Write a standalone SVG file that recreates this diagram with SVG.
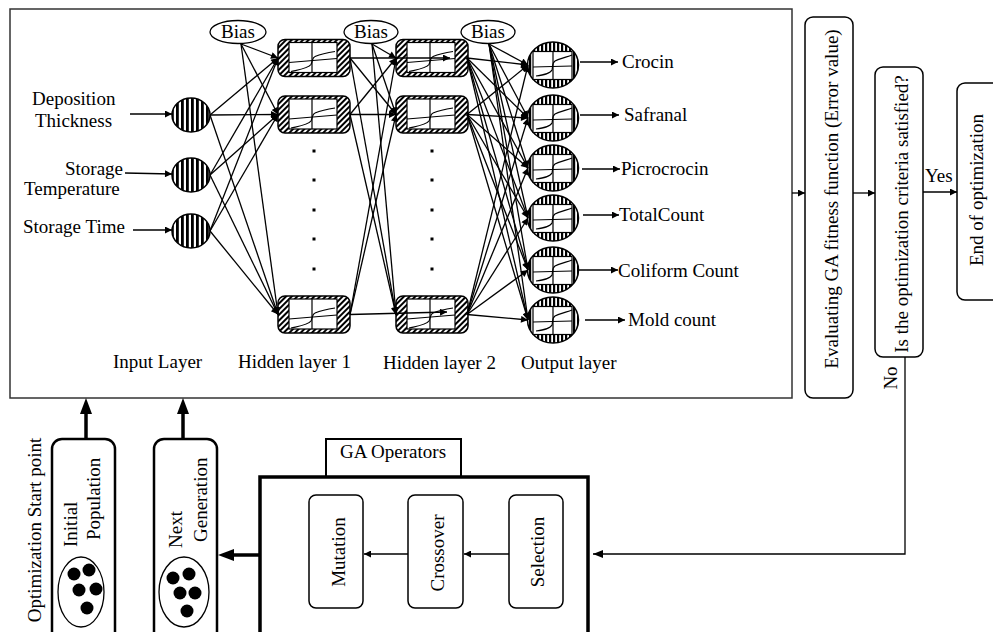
<svg xmlns="http://www.w3.org/2000/svg" xmlns:xlink="http://www.w3.org/1999/xlink" width="993" height="632" viewBox="0 0 993 632">
<style>
.t{font-family:"Liberation Serif","Times New Roman",serif;font-size:19px;fill:#000}
.c{stroke:#000;stroke-width:1.3;fill:none}
.ca{stroke:#000;stroke-width:1.3;fill:none;marker-end:url(#ah)}
.tk{stroke:#000;stroke-width:3.5;fill:none}
.rb{fill:#fff;stroke:#000;stroke-width:1.5}
</style>
<defs>
<marker id="ah" viewBox="0 0 10 10" refX="10" refY="5" markerWidth="9" markerHeight="7" markerUnits="userSpaceOnUse" orient="auto"><path d="M0,0 L10,5 L0,10 z" fill="#000"/></marker>
<pattern id="hatch" patternUnits="userSpaceOnUse" width="4" height="4" patternTransform="rotate(45)"><rect width="4" height="4" fill="#fff"/><line x1="2" y1="0" x2="2" y2="4" stroke="#000" stroke-width="2"/></pattern>
<pattern id="vs1" patternUnits="userSpaceOnUse" width="5" height="10"><rect width="5" height="10" fill="#fff"/><rect width="2.8" height="10" fill="#000"/></pattern>
<pattern id="vs2" patternUnits="userSpaceOnUse" width="4" height="10"><rect width="4" height="10" fill="#fff"/><rect width="2.2" height="10" fill="#000"/></pattern>
<g id="hnode">
<rect x="0" y="0" width="72" height="37" rx="7" fill="url(#hatch)" stroke="#000" stroke-width="1.5"/>
<rect x="11" y="3" width="48" height="30" fill="#fff" stroke="#000" stroke-width="1.2"/>
<line x1="34" y1="3" x2="34" y2="33" stroke="#000" stroke-width="1.2"/>
<line x1="11" y1="23" x2="59" y2="19" stroke="#000" stroke-width="1.2"/>
<path d="M13,32 C22,30 30,29 33,25 C35,21 34,18 37,17 C44,14 50,13 57,12" fill="none" stroke="#000" stroke-width="1.2"/>
</g>
<g id="onode">
<ellipse cx="0" cy="0" rx="25.5" ry="23" fill="url(#vs2)" stroke="#000" stroke-width="1.5"/>
<rect x="-20" y="-13.5" width="39" height="28" fill="#fff" stroke="#000" stroke-width="1.2"/>
<line x1="0" y1="-13.5" x2="0" y2="14.5" stroke="#000" stroke-width="1.2"/>
<line x1="-20" y1="2" x2="19" y2="1" stroke="#000" stroke-width="1.2"/>
<path d="M-17,11 C-10,10 -3,9 -1,5 C0,1 -1,-2 2,-4 C8,-7 14,-8 19,-10" fill="none" stroke="#000" stroke-width="1.2"/>
</g>
<ellipse id="inode" cx="0" cy="0" rx="19" ry="17" fill="url(#vs1)" stroke="#000" stroke-width="1.5"/>
</defs>
<rect width="993" height="632" fill="#fff"/>

<g id="nn-frame"><rect x="10" y="9" width="782" height="389" fill="#fff" stroke="#333" stroke-width="1.5"/></g>

<g id="input-nodes">
<use id="in1" href="#inode" x="191" y="115"/>
<use id="in2" href="#inode" x="191" y="175"/>
<use id="in3" href="#inode" x="191" y="231"/>
<text class="t" x="32" y="105">Deposition</text>
<text class="t" x="35" y="127">Thickness</text>
<text class="t" x="123" y="175" text-anchor="end">Storage</text>
<text class="t" x="24" y="195">Temperature</text>
<text class="t" x="23" y="233">Storage Time</text>
</g>

<g id="bias1"><ellipse cx="238" cy="32" rx="28" ry="11.5" fill="#fff" stroke="#000" stroke-width="1.3"/><text class="t" x="238" y="38" text-anchor="middle">Bias</text></g>
<g id="bias2"><ellipse cx="371" cy="32" rx="27" ry="11.5" fill="#fff" stroke="#000" stroke-width="1.3"/><text class="t" x="371" y="38" text-anchor="middle">Bias</text></g>
<g id="bias3"><ellipse cx="488" cy="32" rx="27" ry="11.5" fill="#fff" stroke="#000" stroke-width="1.3"/><text class="t" x="488" y="38" text-anchor="middle">Bias</text></g>

<g id="hidden1">
<use href="#hnode" x="278" y="39.5"/>
<use href="#hnode" x="278" y="96"/>
<use href="#hnode" x="278" y="296"/>
</g>
<g id="hidden2">
<use href="#hnode" x="396" y="39.5"/>
<use href="#hnode" x="396" y="96"/>
<use href="#hnode" x="396" y="296"/>
</g>
<g id="dots" fill="#000">
<rect x="312.5" y="149.5" width="3" height="3"/><rect x="312.5" y="178.5" width="3" height="3"/><rect x="312.5" y="208.5" width="3" height="3"/><rect x="312.5" y="237.5" width="3" height="3"/><rect x="312.5" y="267.5" width="3" height="3"/>
<rect x="430.5" y="149.5" width="3" height="3"/><rect x="430.5" y="178.5" width="3" height="3"/><rect x="430.5" y="208.5" width="3" height="3"/><rect x="430.5" y="237.5" width="3" height="3"/><rect x="430.5" y="267.5" width="3" height="3"/>
</g>

<g id="outputs">
<use href="#onode" x="553" y="65"/>
<use href="#onode" x="553" y="118"/>
<use href="#onode" x="553" y="168"/>
<use href="#onode" x="553" y="218"/>
<use href="#onode" x="553" y="270"/>
<use href="#onode" x="553" y="320"/>
<text class="t" x="622" y="68">Crocin</text>
<text class="t" x="624" y="121">Safranal</text>
<text class="t" x="621" y="175">Picrocrocin</text>
<text class="t" x="619" y="221">TotalCount</text>
<text class="t" x="618" y="277">Coliform Count</text>
<text class="t" x="628" y="326">Mold count</text>
</g>

<g id="layer-labels">
<text class="t" x="113" y="368">Input Layer</text>
<text class="t" x="238" y="368">Hidden layer 1</text>
<text class="t" x="383" y="369">Hidden layer 2</text>
<text class="t" x="521" y="369">Output layer</text>
</g>

<g id="eval"><rect class="rb" x="805" y="17" width="48" height="381" rx="8"/><text class="t" transform="translate(838,199) rotate(-90)" text-anchor="middle">Evaluating GA fitness function (Error value)</text></g>
<g id="criteria"><rect class="rb" x="875" y="67" width="48" height="290" rx="8"/><text class="t" transform="translate(908,214) rotate(-90)" text-anchor="middle">Is the optimization criteria satisfied?</text></g>
<g id="end"><rect class="rb" x="957" y="83" width="60" height="217" rx="8"/><text class="t" transform="translate(983,190) rotate(-90)" text-anchor="middle">End of optimization</text></g>

<g id="ga-operators">
<rect x="326" y="439" width="135" height="38" fill="#fff" stroke="#000" stroke-width="2"/>
<text class="t" x="393" y="458" text-anchor="middle">GA Operators</text>
<rect x="260" y="477" width="328" height="170" fill="#fff" stroke="#000" stroke-width="3.5"/>
</g>
<g id="mutation"><rect class="rb" x="309" y="495" width="54" height="113" rx="7" stroke-width="1.3"/><text class="t" transform="translate(345,552) rotate(-90)" text-anchor="middle">Mutation</text></g>
<g id="crossover"><rect class="rb" x="408" y="495" width="55" height="113" rx="7" stroke-width="1.3"/><text class="t" transform="translate(444,553) rotate(-90)" text-anchor="middle">Crossover</text></g>
<g id="selection"><rect class="rb" x="509" y="495" width="54" height="113" rx="7" stroke-width="1.3"/><text class="t" transform="translate(544,552) rotate(-90)" text-anchor="middle">Selection</text></g>

<g id="initial-pop">
<rect x="52" y="439" width="63" height="210" rx="10" fill="#fff" stroke="#000" stroke-width="2.5"/>
<text class="t" transform="translate(77,547) rotate(-90)">Initial</text>
<text class="t" transform="translate(100,540) rotate(-90)">Population</text>
<ellipse cx="81" cy="592" rx="23" ry="35" fill="#fff" stroke="#000" stroke-width="1.3"/>
<g fill="#000"><circle cx="74" cy="574" r="6.5"/><circle cx="89" cy="570" r="6.5"/><circle cx="79" cy="590" r="6.5"/><circle cx="96" cy="589" r="6.5"/><circle cx="87" cy="608" r="6.5"/></g>
</g>
<g id="next-gen">
<rect x="154" y="439" width="63" height="210" rx="10" fill="#fff" stroke="#000" stroke-width="2.5"/>
<text class="t" transform="translate(182,548) rotate(-90)">Next</text>
<text class="t" transform="translate(207,542) rotate(-90)">Generation</text>
<ellipse cx="184" cy="592" rx="25" ry="35" fill="#fff" stroke="#000" stroke-width="1.3"/>
<g fill="#000"><circle cx="173" cy="578" r="6.5"/><circle cx="189" cy="574" r="6.5"/><circle cx="180" cy="593" r="6.5"/><circle cx="195" cy="593" r="6.5"/><circle cx="187" cy="611" r="6.5"/></g>
</g>
<g id="start-label"><text class="t" transform="translate(41,530) rotate(-90)" text-anchor="middle">Optimization Start point</text></g>

<g id="connectors">
<line class="ca" x1="130" y1="114" x2="172" y2="114"/>
<line class="ca" x1="125" y1="173" x2="172" y2="174"/>
<line class="ca" x1="133" y1="230" x2="172" y2="230"/>
<line class="ca" x1="210" y1="115" x2="278" y2="58"/>
<line class="ca" x1="210" y1="115" x2="278" y2="114.5"/>
<line class="ca" x1="210" y1="115" x2="278" y2="314.5"/>
<line class="ca" x1="210" y1="175" x2="278" y2="58"/>
<line class="ca" x1="210" y1="175" x2="278" y2="114.5"/>
<line class="ca" x1="210" y1="175" x2="278" y2="314.5"/>
<line class="ca" x1="210" y1="231" x2="278" y2="58"/>
<line class="ca" x1="210" y1="231" x2="278" y2="114.5"/>
<line class="ca" x1="210" y1="231" x2="278" y2="314.5"/>
<line class="ca" x1="241" y1="44" x2="278" y2="58"/>
<line class="ca" x1="241" y1="44" x2="278" y2="114.5"/>
<line class="ca" x1="241" y1="44" x2="278" y2="314.5"/>
<line class="ca" x1="350" y1="58" x2="450" y2="58"/>
<line class="ca" x1="350" y1="58" x2="396" y2="114.5"/>
<line class="ca" x1="350" y1="58" x2="396" y2="314.5"/>
<line class="ca" x1="350" y1="114.5" x2="396" y2="58"/>
<line class="ca" x1="350" y1="114.5" x2="396" y2="114.5"/>
<line class="ca" x1="350" y1="114.5" x2="396" y2="314.5"/>
<line class="ca" x1="350" y1="314.5" x2="396" y2="58"/>
<line class="ca" x1="350" y1="314.5" x2="396" y2="114.5"/>
<line class="ca" x1="350" y1="314.5" x2="447" y2="312"/>
<line class="ca" x1="372" y1="44" x2="396" y2="58"/>
<line class="ca" x1="372" y1="44" x2="396" y2="114.5"/>
<line class="ca" x1="372" y1="44" x2="396" y2="314.5"/>
<line class="ca" x1="467" y1="58" x2="528" y2="65"/>
<line class="ca" x1="467" y1="58" x2="528" y2="118"/>
<line class="ca" x1="467" y1="58" x2="528" y2="168"/>
<line class="ca" x1="467" y1="58" x2="528" y2="218"/>
<line class="ca" x1="467" y1="58" x2="528" y2="270"/>
<line class="ca" x1="467" y1="58" x2="528" y2="320"/>
<line class="ca" x1="467" y1="114.5" x2="528" y2="65"/>
<line class="ca" x1="467" y1="114.5" x2="528" y2="118"/>
<line class="ca" x1="467" y1="114.5" x2="528" y2="168"/>
<line class="ca" x1="467" y1="114.5" x2="528" y2="218"/>
<line class="ca" x1="467" y1="114.5" x2="528" y2="270"/>
<line class="ca" x1="467" y1="114.5" x2="528" y2="320"/>
<line class="ca" x1="467" y1="314.5" x2="528" y2="65"/>
<line class="ca" x1="467" y1="314.5" x2="528" y2="118"/>
<line class="ca" x1="467" y1="314.5" x2="528" y2="168"/>
<line class="ca" x1="467" y1="314.5" x2="528" y2="218"/>
<line class="ca" x1="467" y1="314.5" x2="528" y2="270"/>
<line class="ca" x1="467" y1="314.5" x2="528" y2="320"/>
<line class="ca" x1="489" y1="44" x2="528" y2="65"/>
<line class="ca" x1="489" y1="44" x2="528" y2="118"/>
<line class="ca" x1="489" y1="44" x2="528" y2="168"/>
<line class="ca" x1="489" y1="44" x2="528" y2="218"/>
<line class="ca" x1="489" y1="44" x2="528" y2="270"/>
<line class="ca" x1="489" y1="44" x2="528" y2="320"/>
<line class="ca" x1="580" y1="62" x2="618" y2="62"/>
<line class="ca" x1="580" y1="115" x2="619" y2="115"/>
<line class="ca" x1="582" y1="169" x2="620" y2="169"/>
<line class="ca" x1="583" y1="215" x2="619" y2="215"/>
<line class="ca" x1="578" y1="270" x2="618" y2="270"/>
<line class="ca" x1="585" y1="320" x2="625" y2="320"/>
<line class="ca" x1="792" y1="193" x2="805" y2="193"/>
<line class="ca" x1="853" y1="193" x2="875" y2="193"/>
<line class="ca" x1="923" y1="192" x2="957" y2="192"/>
<text class="t" x="925" y="182">Yes</text>
<polyline class="c" points="905,357 905,554 593,554"/>
<path d="M593,554 L603,550 L603,558 z" fill="#000"/>
<text class="t" transform="translate(897,378) rotate(-90)" text-anchor="middle">No</text>
<line class="ca" x1="509" y1="554" x2="464" y2="554"/>
<line class="ca" x1="408" y1="554" x2="364" y2="554"/>
<line class="tk" x1="260" y1="555" x2="232" y2="555"/>
<path d="M218,555 L234,549 L234,561 z" fill="#000"/>
<line class="tk" x1="86" y1="439" x2="86" y2="412"/>
<path d="M86,398 L80,414 L92,414 z" fill="#000"/>
<line class="tk" x1="183" y1="439" x2="183" y2="412"/>
<path d="M183,398 L177,414 L189,414 z" fill="#000"/>
</g>
</svg>
